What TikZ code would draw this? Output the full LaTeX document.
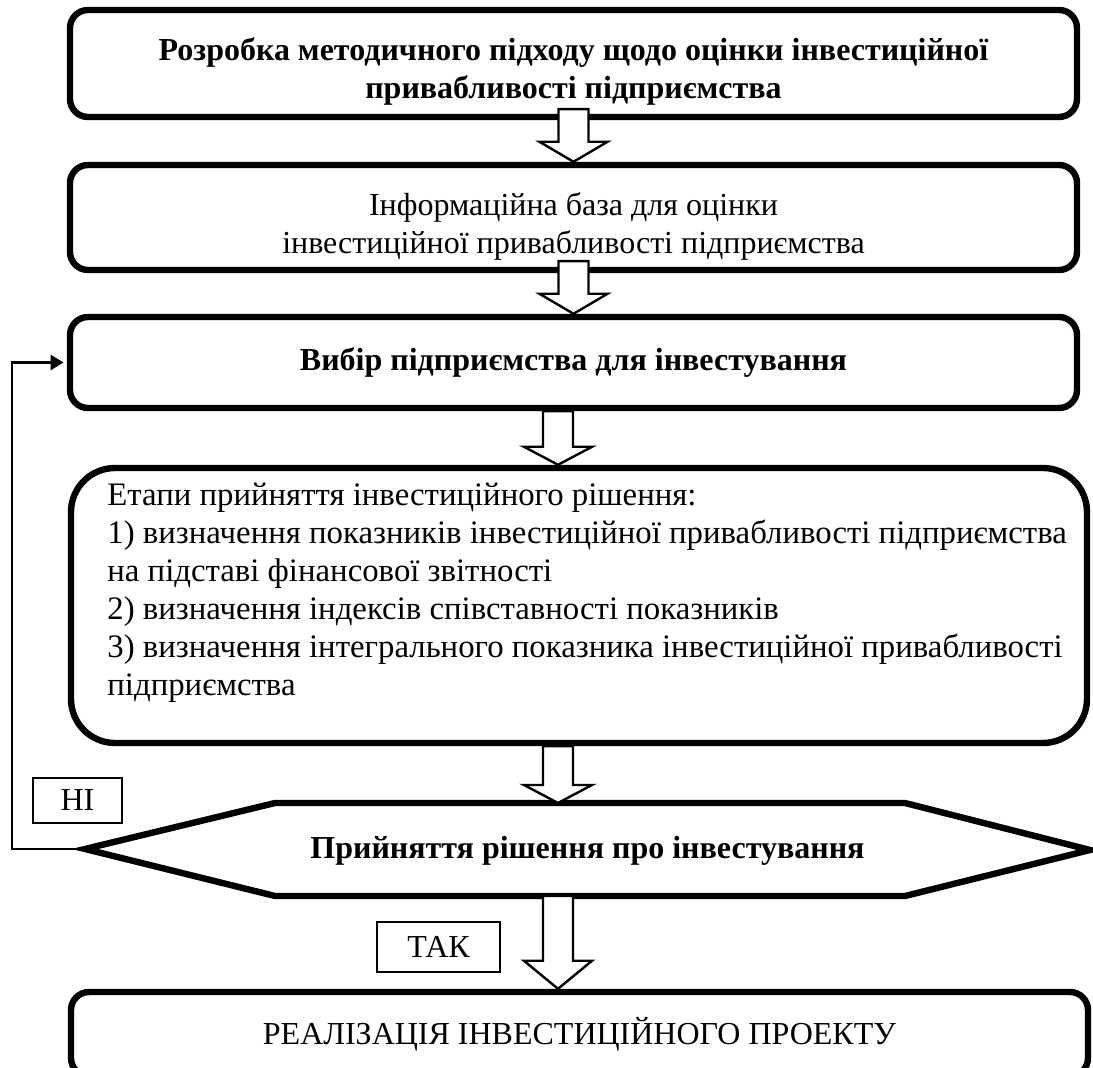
\documentclass[tikz,border=0pt]{standalone}
\usepackage{fontspec}
\setmainfont{Liberation Serif}
\usetikzlibrary{arrows.meta,calc}
\tikzset{
  stagebox/.style={draw=black,line width=3.2pt,rounded corners=9pt,minimum width=503.5pt,align=center,inner sep=0pt,font=\fontsize{16}{19}\selectfont},
  stagebold/.style={stagebox,font=\fontsize{16}{19}\selectfont\bfseries},
  answerbox/.style={draw=black,line width=1.2pt,inner sep=0pt,font=\fontsize{16}{16}\selectfont},
  arrowblock/.style={draw=black,line width=1.2pt,fill=white,line join=miter},
  backline/.style={draw=black,line width=1.3pt,-{Triangle[length=6.5pt,width=7.5pt]}}
}
\newcommand{\blockarrow}[3]{%
  \draw[arrowblock] let \p1=(#1), \p2=(#2) in
    (\x1-7.5pt,\y1) -- (\x1+7.5pt,\y1) -- (\x1+7.5pt,\y2+#3) -- (\x1+17pt,\y2+#3)
    -- (\x1,\y2) -- (\x1-17pt,\y2+#3) -- (\x1-7.5pt,\y2+#3) -- cycle;}

\begin{document}
\begin{tikzpicture}[x=0.5pt,y=-0.5pt]
\useasboundingbox (0,0) rectangle (1093,1068);

\node[stagebold,minimum height=53.5pt] (b1) at (573.5,63.5) {\rule{0pt}{19pt}Розробка методичного підходу щодо оцінки інвестиційної\\привабливості підприємства};
\node[stagebox,minimum height=52.5pt] (b2) at (573.5,217.5) {\rule{0pt}{20pt}Інформаційна база для оцінки\\інвестиційної привабливості підприємства};
\node[stagebold,minimum height=45.5pt] (b3) at (573.5,362.5) {Вибір підприємства для інвестування};
\node[stagebox,rounded corners=22pt,minimum width=508pt,minimum height=137.5pt] (b4) at (579,605.5) {};
\node[anchor=north west,align=left,inner sep=0pt,font=\fontsize{16.4}{19}\selectfont] (b4txt) at (107,483) {Етапи прийняття інвестиційного рішення:\\
1) визначення показників інвестиційної привабливості підприємства\\
на підставі фінансової звітності\\
2) визначення індексів співставності показників\\
3) визначення інтегрального показника інвестиційної привабливості\\
підприємства};

\coordinate (decW) at (85,849);
\coordinate (decN) at (587.5,803);
\coordinate (decS) at (587.5,896);
\draw[line width=3.2pt,line join=miter] (decW) -- (275,803) -- (905,803) -- (1090,850) -- (905,896) -- (275,896) -- cycle;
\node[inner sep=0pt,font=\fontsize{16}{19}\selectfont\bfseries] (dec) at (587.5,851) {Прийняття рішення про інвестування};

\node[stagebox,minimum width=508.5pt,minimum height=42pt] (b6) at (579.5,1034) {РЕАЛІЗАЦІЯ ІНВЕСТИЦІЙНОГО ПРОЕКТУ};

\node[answerbox,minimum width=44.5pt,minimum height=22.5pt] (no) at (77.5,800.5) {НІ};
\node[answerbox,minimum width=61.5pt,minimum height=25pt] (yes) at (438.5,947) {ТАК};

\blockarrow{$(b1.south)+(0,-11)$}{b2.north}{10pt}
\blockarrow{$(b2.south)+(0,-12)$}{b3.north}{10pt}
\blockarrow{$(b3.south)+(-15.5,0)$}{b4.north}{9pt}
\blockarrow{$(b4.south)+(-21,0)$}{decN}{9pt}
\blockarrow{$(decS)+(-29.5,0)$}{b6.north}{14pt}

\coordinate (loopc) at (12,849);
\draw[backline,shorten >=1.6pt] (decW) -- (loopc) |- (b3.west);
\end{tikzpicture}
\end{document}
